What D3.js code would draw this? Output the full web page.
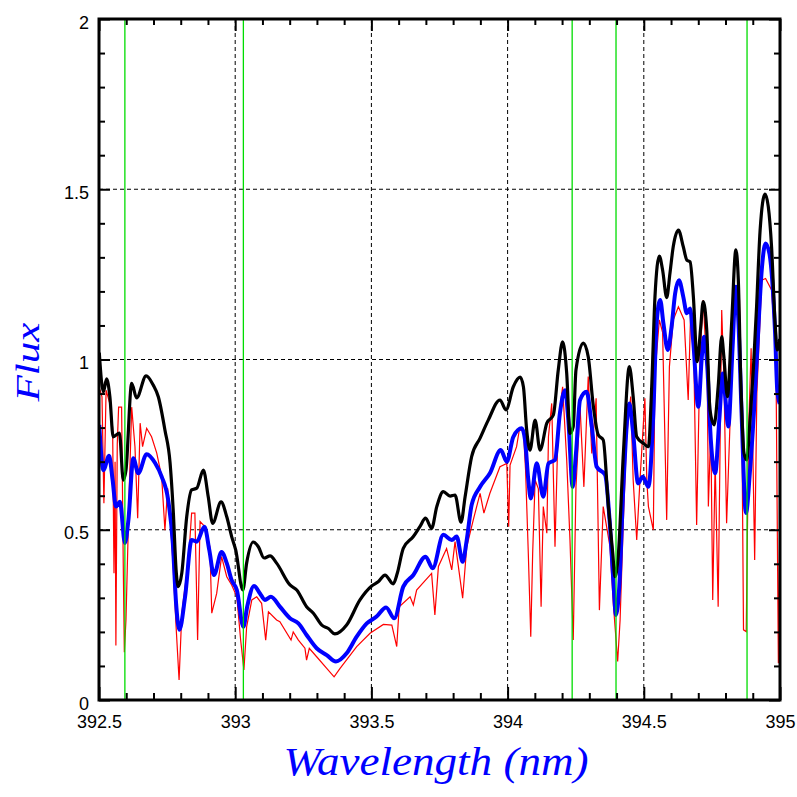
<!DOCTYPE html>
<html>
<head>
<meta charset="utf-8">
<script src="https://cdn.jsdelivr.net/npm/d3@7"></script>
<style>
  body { margin: 0; background: #fff; }
  svg { display: block; }
</style>
</head>
<body>
<div id="chart"></div>
<script>
// convolved spectrum (black)
const wlBlack = [392.501,392.516,392.528,392.540,392.552,392.575,392.589,392.599,392.620,392.638,392.673,392.699,392.718,392.742,392.761,392.773,392.783,392.791,392.804,392.822,392.840,392.859,392.883,392.901,392.917,392.948,392.969,392.987,393.002,393.028,393.042,393.066,393.085,393.106,393.128,393.152,393.201,393.226,393.262,393.287,393.318,393.342,393.366,393.409,393.458,393.501,393.525,393.550,393.580,393.595,393.617,393.654,393.678,393.699,393.721,393.740,393.764,393.789,393.807,393.829,393.844,393.868,393.899,393.929,393.972,393.994,394.021,394.046,394.058,394.070,394.082,394.101,394.119,394.144,394.168,394.186,394.202,394.217,394.229,394.241,394.251,394.278,394.296,394.315,394.333,394.351,394.370,394.386,394.394,394.406,394.425,394.447,394.461,394.474,394.498,394.517,394.529,394.541,394.557,394.569,394.584,394.596,394.608,394.627,394.645,394.658,394.670,394.682,394.696,394.709,394.718,394.731,394.743,394.758,394.773,394.786,394.794,394.807,394.823,394.838,394.847,394.856,394.868,394.878,394.890,394.902,394.914,394.927,394.945,394.957,394.969,394.982,394.990,394.999];
const fluxBlack = [1.02,0.905,0.943,0.89,0.773,0.784,0.646,0.675,0.93,0.887,0.952,0.925,0.89,0.793,0.696,0.549,0.382,0.333,0.373,0.538,0.617,0.622,0.675,0.597,0.519,0.582,0.538,0.48,0.44,0.323,0.402,0.464,0.45,0.417,0.423,0.402,0.338,0.323,0.274,0.255,0.22,0.21,0.194,0.22,0.294,0.335,0.347,0.367,0.341,0.372,0.445,0.48,0.509,0.534,0.504,0.568,0.612,0.599,0.602,0.522,0.597,0.715,0.769,0.822,0.881,0.852,0.92,0.948,0.92,0.793,0.734,0.822,0.734,0.813,0.837,0.969,1.052,0.959,0.783,0.803,0.969,1.048,1.008,0.861,0.778,0.764,0.568,0.431,0.362,0.421,0.724,0.979,0.891,0.773,0.754,0.744,0.92,1.184,1.304,1.263,1.182,1.253,1.331,1.38,1.331,1.292,1.287,1.184,0.994,1.096,1.17,1.087,0.852,0.808,0.92,1.067,1.008,0.891,1.116,1.322,1.233,0.94,0.724,0.705,0.822,0.969,1.155,1.38,1.486,1.449,1.331,1.106,1.028,1.06];

// smoothed spectrum (blue)
const wlBlue = [392.501,392.516,392.537,392.550,392.562,392.577,392.595,392.608,392.626,392.644,392.675,392.706,392.730,392.754,392.771,392.783,392.795,392.816,392.840,392.859,392.887,392.905,392.922,392.950,392.969,392.987,393.006,393.030,393.044,393.069,393.091,393.109,393.131,393.164,393.201,393.232,393.262,393.299,393.336,393.370,393.409,393.446,393.483,393.519,393.554,393.584,393.617,393.654,393.699,393.725,393.764,393.795,393.813,393.835,393.850,393.868,393.899,393.935,393.975,393.997,394.021,394.052,394.064,394.076,394.085,394.107,394.131,394.150,394.174,394.192,394.211,394.223,394.239,394.251,394.266,394.290,394.309,394.327,394.358,394.376,394.388,394.398,394.410,394.425,394.447,394.461,394.479,394.496,394.517,394.535,394.547,394.560,394.572,394.588,394.602,394.615,394.629,394.645,394.658,394.670,394.682,394.700,394.713,394.721,394.733,394.746,394.762,394.777,394.790,394.798,394.810,394.826,394.838,394.847,394.859,394.875,394.890,394.904,394.917,394.933,394.947,394.961,394.973,394.982,394.990,394.999];
const fluxBlue = [0.808,0.675,0.717,0.646,0.568,0.582,0.461,0.529,0.71,0.666,0.722,0.696,0.656,0.587,0.461,0.284,0.206,0.303,0.47,0.465,0.509,0.44,0.367,0.435,0.402,0.352,0.323,0.215,0.274,0.335,0.313,0.294,0.303,0.274,0.24,0.225,0.191,0.152,0.132,0.113,0.137,0.186,0.225,0.245,0.272,0.24,0.333,0.367,0.421,0.387,0.485,0.47,0.48,0.406,0.47,0.573,0.626,0.666,0.734,0.7,0.773,0.798,0.764,0.646,0.592,0.695,0.597,0.695,0.705,0.842,0.91,0.822,0.626,0.724,0.881,0.905,0.803,0.685,0.661,0.509,0.352,0.25,0.333,0.626,0.871,0.783,0.636,0.656,0.626,0.842,1.106,1.175,1.106,1.028,1.096,1.194,1.233,1.184,1.136,1.15,1.048,0.861,1.008,1.067,0.979,0.764,0.666,0.822,0.959,0.9,0.803,1.037,1.214,1.116,0.842,0.549,0.675,0.842,1.037,1.263,1.341,1.312,1.214,1.077,0.91,0.87];

// observed spectrum (red)
const wlRed = [392.501,392.504,392.511,392.518,392.526,392.540,392.550,392.555,392.559,392.562,392.567,392.572,392.583,392.589,392.593,392.599,392.611,392.620,392.632,392.642,392.651,392.660,392.675,392.693,392.712,392.730,392.742,392.752,392.761,392.771,392.783,392.794,392.804,392.816,392.828,392.840,392.852,392.862,392.871,392.889,392.907,392.914,392.932,392.950,392.969,392.987,393.006,393.020,393.032,393.042,393.061,393.079,393.097,393.112,393.122,393.152,393.164,393.205,393.213,393.232,393.256,393.262,393.272,393.299,393.336,393.363,393.385,393.446,393.495,393.544,393.575,393.593,393.602,393.642,393.654,393.666,393.721,393.733,393.746,393.776,393.795,393.807,393.835,393.850,393.874,393.899,393.913,393.935,393.972,393.997,394.004,394.009,394.033,394.043,394.058,394.066,394.076,394.085,394.092,394.101,394.113,394.123,394.131,394.144,394.150,394.162,394.174,394.186,394.202,394.217,394.229,394.241,394.251,394.266,394.280,394.296,394.309,394.325,394.337,394.351,394.376,394.388,394.404,394.413,394.425,394.437,394.452,394.461,394.474,394.486,394.504,394.511,394.517,394.535,394.541,394.557,394.569,394.584,394.594,394.608,394.627,394.648,394.663,394.672,394.682,394.694,394.706,394.718,394.733,394.737,394.746,394.753,394.762,394.773,394.786,394.794,394.804,394.816,394.826,394.839,394.851,394.861,394.866,394.876,394.885,394.894,394.907,394.915,394.933,394.947,394.969,394.985,394.994,394.999];
const fluxRed = [0.91,0.91,0.89,0.578,0.91,0.87,0.80,0.372,0.70,0.16,0.75,0.86,0.86,0.40,0.14,0.235,0.617,0.86,0.744,0.534,0.813,0.744,0.798,0.773,0.725,0.656,0.499,0.622,0.538,0.411,0.215,0.059,0.255,0.333,0.402,0.549,0.549,0.176,0.524,0.509,0.45,0.255,0.313,0.421,0.362,0.338,0.303,0.176,0.088,0.215,0.294,0.303,0.284,0.176,0.259,0.235,0.23,0.176,0.20,0.176,0.152,0.117,0.152,0.127,0.093,0.068,0.093,0.157,0.196,0.222,0.22,0.157,0.274,0.303,0.279,0.323,0.372,0.25,0.392,0.445,0.382,0.465,0.299,0.45,0.529,0.607,0.549,0.607,0.685,0.695,0.509,0.69,0.744,0.793,0.79,0.675,0.431,0.186,0.43,0.646,0.62,0.274,0.568,0.49,0.773,0.871,0.45,0.822,0.92,0.705,0.47,0.176,0.626,0.861,0.626,0.95,0.724,0.886,0.264,0.568,0.45,0.284,0.113,0.235,0.529,0.773,0.891,0.646,0.47,0.646,0.886,0.646,0.568,0.499,0.959,1.116,1.08,0.529,0.979,1.116,1.155,1.116,0.881,1.136,1.08,0.514,1.0,1.175,0.95,0.568,0.80,0.294,0.70,0.274,1.145,0.95,0.519,0.80,1.05,1.214,1.18,0.724,0.206,0.201,0.80,1.033,0.411,0.90,1.233,1.238,1.204,1.018,0.108,0.529];

// marked line positions (green)
const markerLines = [392.595, 393.030, 394.237, 394.398, 394.879];

const xMajor = [392.5, 393, 393.5, 394, 394.5, 395];
const yMajor = [0, 0.5, 1, 1.5, 2];
const xGrid = [393, 393.5, 394, 394.5];
const yGrid = [0.5, 1, 1.5];

const W = 797, H = 797;
const margin = {left: 99, right: 17, top: 19, bottom: 97};
const pw = W - margin.left - margin.right;
const ph = H - margin.top - margin.bottom;

const x = d3.scaleLinear().domain([392.5, 395]).range([0, pw]);
const y = d3.scaleLinear().domain([0, 2]).range([ph, 0]);

const xMinor = d3.range(0, 26).map(i => 392.5 + i * 0.1).filter(v => !xMajor.some(m => Math.abs(m - v) < 1e-6));
const yMinor = d3.range(0, 21).map(i => i * 0.1).filter(v => !yMajor.some(m => Math.abs(m - v) < 1e-6));

const svg = d3.select("#chart").append("svg")
    .attr("width", W)
    .attr("height", H);

svg.append("defs").append("clipPath").attr("id", "clip")
  .append("rect").attr("width", pw).attr("height", ph);

const g = svg.append("g").attr("transform", `translate(${margin.left},${margin.top})`);

// grid
g.append("g").selectAll("line").data(xGrid).join("line")
    .attr("x1", d => x(d)).attr("x2", d => x(d))
    .attr("y1", 0).attr("y2", ph)
    .attr("stroke", "#000").attr("stroke-width", 1).attr("stroke-dasharray", "4,3");
g.append("g").selectAll("line").data(yGrid).join("line")
    .attr("y1", d => y(d)).attr("y2", d => y(d))
    .attr("x1", 0).attr("x2", pw)
    .attr("stroke", "#000").attr("stroke-width", 1).attr("stroke-dasharray", "4,3");

const plot = g.append("g").attr("clip-path", "url(#clip)");

const line = d3.line().x(d => x(d[0])).y(d => y(d[1]));

plot.append("path")
    .datum(d3.zip(wlRed, fluxRed))
    .attr("d", line)
    .attr("fill", "none").attr("stroke", "#ff0000").attr("stroke-width", 1.2);

plot.append("path")
    .datum(d3.zip(wlBlue, fluxBlue))
    .attr("d", line.curve(d3.curveMonotoneX))
    .attr("fill", "none").attr("stroke", "#0000ff").attr("stroke-width", 4)
    .attr("stroke-linejoin", "round");

plot.append("path")
    .datum(d3.zip(wlBlack, fluxBlack))
    .attr("d", line.curve(d3.curveMonotoneX))
    .attr("fill", "none").attr("stroke", "#000").attr("stroke-width", 3.2)
    .attr("stroke-linejoin", "round");

plot.append("g").selectAll("line").data(markerLines).join("line")
    .attr("x1", d => x(d)).attr("x2", d => x(d))
    .attr("y1", 0).attr("y2", ph)
    .attr("stroke", "#00dd00").attr("stroke-width", 1.3);

// axes: ticks point inward on all four sides
const tickFont = "18px 'Liberation Sans', Arial, sans-serif";

function styleAxis(sel) {
  sel.select(".domain").remove();
  sel.selectAll(".tick line").attr("stroke", "#000").attr("stroke-width", 2);
  sel.selectAll("text").style("font", tickFont).attr("fill", "#000");
}

g.append("g").attr("transform", `translate(0,${ph})`)
    .call(d3.axisBottom(x).tickValues(xMajor).tickSize(-13).tickPadding(15).tickFormat(d3.format("")))
    .call(styleAxis);
g.append("g").attr("transform", `translate(0,${ph})`)
    .call(d3.axisBottom(x).tickValues(xMinor).tickSize(-7).tickFormat(""))
    .call(styleAxis);
g.append("g")
    .call(d3.axisTop(x).tickValues(xMajor).tickSize(-12).tickFormat(""))
    .call(styleAxis);
g.append("g")
    .call(d3.axisTop(x).tickValues(xMinor).tickSize(-6).tickFormat(""))
    .call(styleAxis);

const yAx = g.append("g")
    .call(d3.axisLeft(y).tickValues(yMajor).tickSize(-11).tickPadding(10).tickFormat(d3.format("")))
    .call(styleAxis);
yAx.selectAll("text").attr("dy", "0.5em");
g.append("g")
    .call(d3.axisLeft(y).tickValues(yMinor).tickSize(-6).tickFormat(""))
    .call(styleAxis);
g.append("g").attr("transform", `translate(${pw},0)`)
    .call(d3.axisRight(y).tickValues(yMajor).tickSize(-11).tickFormat(""))
    .call(styleAxis);
g.append("g").attr("transform", `translate(${pw},0)`)
    .call(d3.axisRight(y).tickValues(yMinor).tickSize(-6).tickFormat(""))
    .call(styleAxis);

// frame
g.append("rect")
    .attr("width", pw).attr("height", ph)
    .attr("fill", "none").attr("stroke", "#000").attr("stroke-width", 3);

// titles
svg.append("text")
    .attr("x", 436).attr("y", 775)
    .attr("text-anchor", "middle")
    .attr("textLength", 305).attr("lengthAdjust", "spacingAndGlyphs")
    .style("font", "italic 40px 'Liberation Serif', 'DejaVu Serif', serif")
    .attr("fill", "#0000ff")
    .text("Wavelength (nm)");

svg.append("text")
    .attr("transform", "translate(39,362) rotate(-90)")
    .attr("text-anchor", "middle")
    .attr("textLength", 79).attr("lengthAdjust", "spacingAndGlyphs")
    .style("font", "italic 33px 'Liberation Serif', 'DejaVu Serif', serif")
    .attr("fill", "#0000ff")
    .text("Flux");
</script>
</body>
</html>
